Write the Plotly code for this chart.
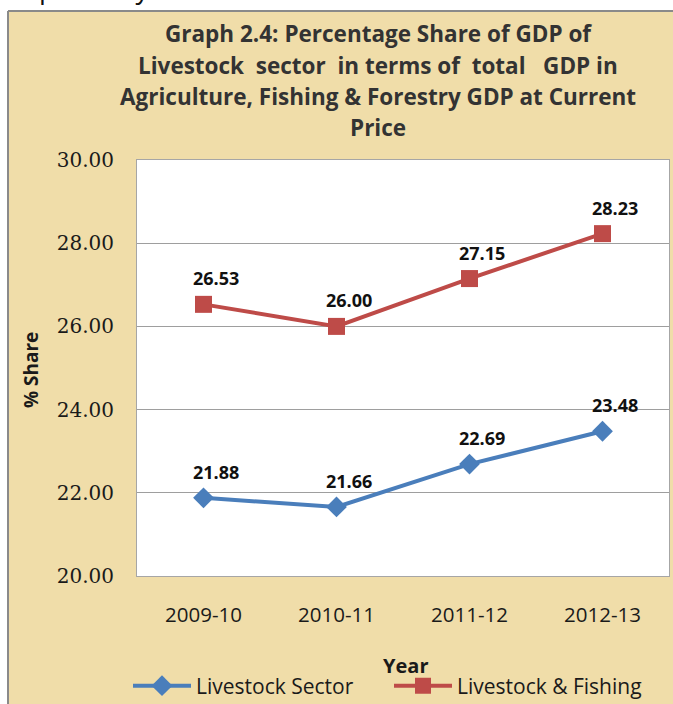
import plotly.graph_objects as go

# ---- data ----
years = ["2009-10", "2010-11", "2011-12", "2012-13"]
livestock_sector = [21.88, 21.66, 22.69, 23.48]
livestock_fishing = [26.53, 26.00, 27.15, 28.23]
series_names = ["Livestock Sector", "Livestock & Fishing"]
title_lines = [
    "Graph 2.4: Percentage Share of GDP of",
    "Livestock  sector  in terms of  total   GDP in",
    "Agriculture, Fishing & Forestry GDP at Current",
    "Price",
]
y_ticks = [20, 22, 24, 26, 28, 30]

# ---- layout geometry (pixels) ----
W, H = 673, 704
L, R, T, B = 137, 4, 160, 128
PW, PH = W - L - R, H - T - B


def px(x):
    return (x - L) / PW


def py(y):
    return (H - B - y) / PH


BG = "#F0DDA9"
BLUE = "#4A7EBB"
RED = "#BE4B48"
SANS = "Open Sans"

fig = go.Figure()
fig.add_trace(go.Scatter(
    x=years, y=livestock_sector, name=series_names[0], mode="lines+markers",
    line=dict(color=BLUE, width=4),
    marker=dict(symbol="diamond", size=16, color=BLUE),
))
fig.add_trace(go.Scatter(
    x=years, y=livestock_fishing, name=series_names[1], mode="lines+markers",
    line=dict(color=RED, width=4),
    marker=dict(symbol="square", size=17, color=RED),
))

annotations = []
# data labels
for vals in (livestock_sector, livestock_fishing):
    for xv, yv in zip(years, vals):
        annotations.append(dict(
            x=xv, y=yv, xref="x", yref="y", text=f"<b>{yv:.2f}</b>", showarrow=False,
            xshift=12, yshift=26, font=dict(family=SANS, size=18, color="#111111"),
        ))
# title lines
for i, line in enumerate(title_lines):
    annotations.append(dict(
        x=px(378), y=py(34 + 31.3 * i), xref="paper", yref="paper", text=f"<b>{line}</b>",
        showarrow=False, xanchor="center", yanchor="middle",
        font=dict(family=SANS, size=22.5, color="#333333"),
    ))
# axis titles
annotations.append(dict(
    x=px(405), y=py(665), xref="paper", yref="paper", text="<b>Year</b>", showarrow=False,
    xanchor="center", yanchor="middle", font=dict(family=SANS, size=20, color="#1a1a1a"),
))
annotations.append(dict(
    x=px(31), y=py(370), xref="paper", yref="paper", text="<b>% Share</b>", showarrow=False,
    textangle=-90, xanchor="center", yanchor="middle",
    font=dict(family=SANS, size=19, color="#1a1a1a"),
))
# cut-off page text above frame
annotations.append(dict(
    x=px(-2), y=py(8), xref="paper", yref="paper", text="respectively.", showarrow=False,
    xanchor="left", yanchor="bottom", font=dict(family=SANS, size=27, color="#111111"),
))

shapes = [
    # white page strip above and left of the framed chart
    dict(type="rect", xref="paper", yref="paper", x0=px(-5), x1=px(W + 5), y0=py(11), y1=py(-5),
         fillcolor="white", line=dict(width=0), layer="above"),
    dict(type="rect", xref="paper", yref="paper", x0=px(-5), x1=px(8), y0=py(H + 5), y1=py(-5),
         fillcolor="white", line=dict(width=0), layer="above"),
    # frame border
    dict(type="line", xref="paper", yref="paper", x0=px(8), x1=px(W + 5), y0=py(11), y1=py(11),
         line=dict(color="#8a8a8a", width=2)),
    dict(type="line", xref="paper", yref="paper", x0=px(8), x1=px(8), y0=py(11), y1=py(H + 5),
         line=dict(color="#8a8a8a", width=2)),
]

fig.update_layout(
    width=W, height=H,
    margin=dict(l=L, r=R, t=T, b=B, pad=0, autoexpand=False),
    paper_bgcolor=BG, plot_bgcolor="white",
    showlegend=True,
    legend=dict(
        orientation="h", x=px(128), y=py(686), xanchor="left", yanchor="middle",
        font=dict(family=SANS, size=21, color="#1a1a1a"), bgcolor="rgba(0,0,0,0)",
        itemwidth=58, entrywidth=188, entrywidthmode="pixels",
    ),
    annotations=annotations,
    shapes=shapes,
    xaxis=dict(
        type="category", range=[-0.5, 3.5], showgrid=False, zeroline=False,
        showline=True, linecolor="#a6a6a6", linewidth=1, mirror=True,
        ticks="", ticklabelstandoff=20,
        tickfont=dict(family=SANS, size=20.5, color="#1a1a1a"),
    ),
    yaxis=dict(
        range=[20, 30], tickvals=y_ticks, tickformat=".2f",
        showgrid=True, gridcolor="#9e9e9e", gridwidth=1, zeroline=False,
        showline=True, linecolor="#a6a6a6", linewidth=1, mirror=True,
        ticks="", ticklabelstandoff=18,
        tickfont=dict(family="DejaVu Serif", size=20, color="#1a1a1a"),
    ),
)

fig.write_html("out.html", config={"displayModeBar": False},
               post_script="document.body.style.margin='0px';")
